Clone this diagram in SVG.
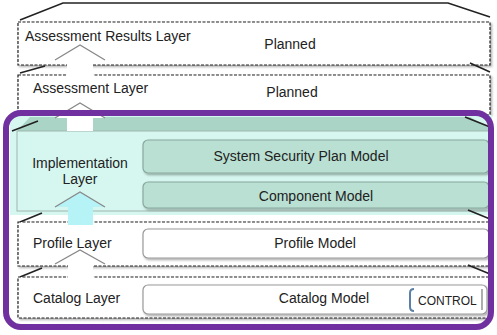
<svg xmlns="http://www.w3.org/2000/svg" width="497" height="335" viewBox="0 0 497 335">
<defs>
<style>
text{font-family:"Liberation Sans","DejaVu Sans",sans-serif;font-size:14px;fill:#222}
.c{text-anchor:middle}
.box{fill:#fff;stroke:#222;stroke-width:1.2;stroke-dasharray:3 1.5}
.lid{fill:none;stroke:#222;stroke-width:1.6}
.model{fill:#fff;stroke:#999;stroke-width:1.2}
.tmodel{fill:#B9E0D2;stroke:#8aa89d;stroke-width:1.2}
.head{fill:none;stroke:#888;stroke-width:1.3}
</style>
<filter id="sh" x="-5%" y="-20%" width="110%" height="150%">
<feDropShadow dx="1.5" dy="1.5" stdDeviation="1" flood-color="#000" flood-opacity="0.35"/>
</filter>
</defs>

<g id="assessment-results-layer">
<path class="lid" d="M20,20 L63,3 L448,3 L490,17"/>
<rect class="box" x="18" y="22" width="472" height="43" filter="url(#sh)"/>
<text x="25" y="41">Assessment Results Layer</text>
<text x="290" y="49" class="c">Planned</text>
</g>

<g id="assessment-layer">
<path class="lid" d="M20,73 L45,66 M470,63 L490,72"/>
<rect class="box" x="18" y="75" width="472" height="40" filter="url(#sh)"/>
<text x="33" y="93">Assessment Layer</text>
<text x="292" y="97" class="c">Planned</text>
</g>

<g id="implementation-layer">
<rect x="10" y="115" width="482" height="100" fill="#D6F7EF"/>
<path d="M30,117 L470,117 L490,128 L490,131 L17,131 Z" fill="#A9D4C6"/>
<path class="lid" d="M12,131 L38,121 M465,117 L490,127"/>
<rect x="17" y="131" width="473" height="80" fill="#D6F7EF" stroke="#9fb5ad" stroke-width="1"/>
<text x="80" y="168" class="c">Implementation</text>
<text x="80" y="184" class="c">Layer</text>
<g id="ssp-model">
<rect class="tmodel" x="143" y="140" width="346" height="33" rx="5" filter="url(#sh)"/>
<text x="301" y="161" class="c">System Security Plan Model</text>
</g>
<g id="component-model">
<rect class="tmodel" x="143" y="182" width="346" height="26" rx="5" filter="url(#sh)"/>
<text x="316" y="201" class="c">Component Model</text>
</g>
</g>

<g id="profile-layer">
<path class="lid" d="M20,222 L42,213 M468,210 L490,219"/>
<rect class="box" x="18" y="222" width="472" height="44" filter="url(#sh)"/>
<text x="33" y="248">Profile Layer</text>
<g id="profile-model">
<rect class="model" x="143" y="229" width="346" height="29" rx="5" filter="url(#sh)"/>
<text x="315" y="248" class="c">Profile Model</text>
</g>
</g>

<g id="catalog-layer">
<path class="lid" d="M20,277 L42,268 M468,265 L490,274"/>
<rect class="box" x="18" y="277" width="472" height="41" filter="url(#sh)"/>
<text x="33" y="303">Catalog Layer</text>
<g id="catalog-model">
<rect class="model" x="143" y="285" width="344" height="29" rx="5" filter="url(#sh)"/>
<text x="324" y="303" class="c">Catalog Model</text>
<path d="M414,289 Q410,289 410,293 L410,307 Q410,311 414,311" fill="none" stroke="#5a7fa8" stroke-width="2"/>
<text x="418" y="305" style="font-size:12px">CONTROL</text>
<line x1="482" y1="289" x2="482" y2="310" stroke="#777" stroke-width="1.2"/>
</g>
</g>

<g id="connectors">
<g id="arrow-results">
<polygon points="80,45 55,60 67,60 67,77 93,77 93,60 105,60" fill="#fff"/>
<path class="head" d="M55,60 L80,45 L105,60"/>
</g>
<g id="arrow-assessment">
<polygon points="80,103 55,118 67,118 67,131 93,131 93,118 105,118" fill="#fff"/>
<path class="head" d="M55,118 L80,103 L105,118"/>
</g>
<g id="arrow-implementation">
<polygon points="80,192 55,207 68,207 68,225 93,225 93,207 105,207" fill="#B6F3F7"/>
<path class="head" d="M55,207 L80,192 L105,207"/>
</g>
<g id="arrow-profile">
<polygon points="80,250 55,264 68,264 68,279 93,279 93,264 105,264" fill="#fff"/>
<path class="head" d="M55,264 L80,250 L105,264"/>
</g>
</g>

<g id="frame">
<rect x="6" y="113" width="485" height="214" rx="15" fill="none" stroke="#7030A0" stroke-width="6"/>
</g>
</svg>
